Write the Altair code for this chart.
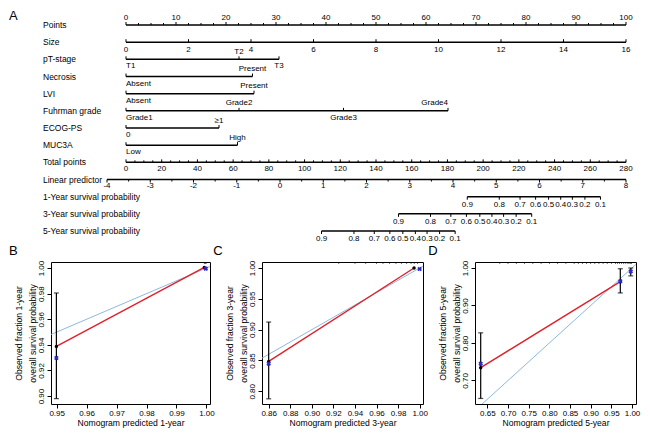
import altair as alt
import pandas as pd
import numpy as np

FONT = "Liberation Sans"

# ---------------- Panel A : nomogram ----------------
row_names = ["Points", "Size", "pT-stage", "Necrosis", "LVI", "Fuhrman grade",
             "ECOG-PS", "MUC3A", "Total points", "Linear predictor",
             "1-Year survival probability", "3-Year survival probability",
             "5-Year survival probability"]

points_major = [0, 10, 20, 30, 40, 50, 60, 70, 80, 90, 100]
size_values = [0, 2, 4, 6, 8, 10, 12, 14, 16]
size_max = 16
pt_levels = ["T1", "T2", "T3"]
pt_points = [0.0, 22.6, 30.6]
necrosis_levels = ["Absent", "Present"]
necrosis_points = [0.0, 25.3]
lvi_levels = ["Absent", "Present"]
lvi_points = [0.0, 25.6]
fuhrman_levels = ["Grade1", "Grade2", "Grade3", "Grade4"]
fuhrman_points = [0.0, 22.6, 43.5, 64.4]
ecog_levels = ["0", "≥1"]
ecog_points = [0.0, 18.6]
muc3a_levels = ["Low", "High"]
muc3a_points = [0.0, 22.3]
total_major = [0, 20, 40, 60, 80, 100, 120, 140, 160, 180, 200, 220, 240, 260, 280]
total_max = 280
lp_major = [-4, -3, -2, -1, 0, 1, 2, 3, 4, 5, 6, 7, 8]
lp_points_at_ends = [-3.8, 100.0]      # points position of LP = -4 and LP = 8
surv_labels = ["0.9", "0.8", "0.7", "0.6", "0.5", "0.4", "0.3", "0.2", "0.1"]
surv1_lp = [4.33, 5.07, 5.55, 5.91, 6.21, 6.49, 6.76, 7.05, 7.41]
surv3_lp = [2.74, 3.48, 3.95, 4.31, 4.62, 4.90, 5.17, 5.46, 5.82]
surv5_lp = [0.96, 1.71, 2.18, 2.54, 2.84, 3.13, 3.40, 3.69, 4.05]

ROW_PX = 17.17
TOP_W, TOP_H = 578, 240
PX_PER_PT = 5.0
X0 = -15.0
Y0 = -0.932


def lp_pts(v):
    a, b = lp_points_at_ends
    return a + (v - lp_major[0]) * (b - a) / (lp_major[-1] - lp_major[0])


lines, ticks, labels = [], [], []


def add_tick(r, x, px):
    ticks.append({"x": x, "row": r, "row2": r + px / ROW_PX})


def add_label(r, x, t, dy, align="center"):
    labels.append({"x": x, "row": r + dy / ROW_PX, "t": t, "align": align})


# Points
r = 0
lines.append({"row": r, "x0": 0, "x1": 100})
for v in np.arange(0, 100.01, 2.5):
    add_tick(r, v, -3 if v % 10 == 0 else -2)
for v in points_major:
    add_label(r, v, str(v), -7)
# Size
r = 1
lines.append({"row": r, "x0": 0, "x1": 100})
for v in size_values:
    add_tick(r, v * 100 / size_max, -3)
    add_label(r, v * 100 / size_max, str(v), 7.5)
# categorical rows
cats = [(2, pt_levels, pt_points, ["b", "a", "b"]),
        (3, necrosis_levels, necrosis_points, ["b", "a"]),
        (4, lvi_levels, lvi_points, ["b", "a"]),
        (5, fuhrman_levels, fuhrman_points, ["b", "a", "b", "a"]),
        (6, ecog_levels, ecog_points, ["b", "a"]),
        (7, muc3a_levels, muc3a_points, ["b", "a"])]
for r, levs, pts, sides in cats:
    lines.append({"row": r, "x0": 0, "x1": max(pts)})
    for i, (lv, p, s) in enumerate(zip(levs, pts, sides)):
        add_tick(r, p, -3)
        if i == 0:
            al = "left"
        elif lv == "Grade4":
            al = "right"
        else:
            al = "center"
        add_label(r, p, lv, -7.5 if s == "a" else 7, al)
# Total points
r = 8
lines.append({"row": r, "x0": 0, "x1": 100})
for v in range(0, total_max + 1, 5):
    add_tick(r, v * 100 / total_max, -3 if v % 20 == 0 else -2)
for v in total_major:
    add_label(r, v * 100 / total_max, str(v), 6.5)
# Linear predictor
r = 9
lines.append({"row": r, "x0": lp_pts(lp_major[0]), "x1": lp_pts(lp_major[-1])})
for v in np.arange(lp_major[0], lp_major[-1] + 0.01, 0.5):
    add_tick(r, lp_pts(v), 3 if v == int(v) else 2)
for v in lp_major:
    add_label(r, lp_pts(v), str(v), 6.5)
# survival rows
for r, lps in [(10, surv1_lp), (11, surv3_lp), (12, surv5_lp)]:
    lines.append({"row": r, "x0": lp_pts(min(lps)), "x1": lp_pts(max(lps))})
    for lab, v in zip(surv_labels, lps):
        add_tick(r, lp_pts(v), 3)
        add_label(r, lp_pts(v), lab, 8)

lines_df = pd.DataFrame(lines)
ticks_df = pd.DataFrame(ticks)
labels_df = pd.DataFrame(labels)
names_df = pd.DataFrame({"name": row_names, "row": list(range(len(row_names)))})

xs = alt.Scale(domain=[X0, X0 + TOP_W / PX_PER_PT], nice=False, zero=False)
ys = alt.Scale(domain=[Y0, Y0 + TOP_H / ROW_PX], reverse=True, nice=False, zero=False)

axis_lines = alt.Chart(lines_df).mark_rule(color="black", strokeWidth=1.5).encode(
    x=alt.X("x0:Q", scale=xs, axis=None), x2="x1:Q",
    y=alt.Y("row:Q", scale=ys, axis=None))
tick_marks = alt.Chart(ticks_df).mark_rule(color="black", strokeWidth=1).encode(
    x=alt.X("x:Q", scale=xs, axis=None),
    y=alt.Y("row:Q", scale=ys, axis=None), y2="row2:Q")
text_layers = []
for al in ["left", "center", "right"]:
    text_layers.append(
        alt.Chart(labels_df[labels_df["align"] == al]).mark_text(
            fontSize=8, align=al, baseline="middle", color="black").encode(
            x=alt.X("x:Q", scale=xs, axis=None),
            y=alt.Y("row:Q", scale=ys, axis=None), text="t:N"))
row_text = alt.Chart(names_df).mark_text(
    fontSize=8.5, align="left", baseline="middle", color="black").encode(
    x=alt.value(-8), y=alt.Y("row:Q", scale=ys, axis=None), text="name:N")


def letter(t, px, py, align):
    return alt.Chart(pd.DataFrame({"t": [t]})).mark_text(
        fontSize=13, align=align, baseline="middle", color="black").encode(
        text="t:N", x=alt.value(px), y=alt.value(py))


top = alt.layer(axis_lines, tick_marks, *text_layers, row_text,
                letter("A", -42, 7, "left"), letter("B", -42, 242, "left"),
                letter("C", 167, 242, "center"), letter("D", 382, 242, "center")
                ).properties(width=TOP_W, height=TOP_H,
                             view=alt.ViewBackground(stroke="transparent"))

# ---------------- Panels B, C, D : calibration ----------------
b_pred = [0.9499, 0.9993]
b_obs = [0.9388, 1.0005]
b_err_x = [0.9499]
b_err_lo = [0.898]
b_err_hi = [0.9805]
b_bc_x = [0.9499, 0.9998]
b_bc_y = [0.9297, 0.9995]
b_diag = [0.9481, 1.0012]
b_rug = [0.9993, 0.9996, 0.9999]
b_xdom = [0.9481, 1.0012]
b_ydom = [0.8938, 1.0047]
b_xticks = [0.95, 0.96, 0.97, 0.98, 0.99, 1.00]
b_yticks = [0.90, 0.92, 0.94, 0.96, 0.98, 1.00]

c_pred = [0.8600, 0.9948]
c_obs = [0.8485, 1.0000]
c_err_x = [0.8600]
c_err_lo = [0.7878]
c_err_hi = [0.9123]
c_bc_x = [0.8600, 1.0000]
c_bc_y = [0.8447, 0.9984]
c_diag = [0.8538, 1.0031]
c_rug = [0.925, 0.94, 0.95, 0.96, 0.966, 0.972, 0.978, 0.983, 0.988, 0.992, 0.995, 0.998]
c_xdom = [0.8538, 1.0031]
c_ydom = [0.7794, 1.0097]
c_xticks = [0.86, 0.88, 0.90, 0.92, 0.94, 0.96, 0.98, 1.00]
c_yticks = [0.80, 0.85, 0.90, 0.95, 1.00]

d_pred = [0.6338, 0.9717]
d_obs = [0.7340, 0.9635]
d_err_x = [0.6338, 0.9717, 0.9970]
d_err_lo = [0.6520, 0.9335, 0.9790]
d_err_hi = [0.8270, 0.9980, 1.0000]
d_bc_x = [0.6338, 0.9717, 0.9970]
d_bc_y = [0.7445, 0.9646, 0.9910]
d_diag = [0.6200, 1.0097]
d_rug = [0.68, 0.70, 0.72, 0.74, 0.76, 0.78, 0.80, 0.82, 0.84, 0.86, 0.87, 0.88,
         0.89, 0.90, 0.91, 0.92, 0.93, 0.94, 0.95, 0.96, 0.965, 0.97, 0.975,
         0.98, 0.985, 0.99, 0.993, 0.996, 0.999]
d_xdom = [0.6200, 1.0097]
d_ydom = [0.6372, 1.0160]
d_xticks = [0.65, 0.70, 0.75, 0.80, 0.85, 0.90, 0.95, 1.00]
d_yticks = [0.70, 0.80, 0.90, 1.00]

RED = "#e0202a"
LIGHT_BLUE = "#8fb8de"
DARK_BLUE = "#2a2ad0"


def calib(year, pred, obs, ex, elo, ehi, bx, by, diag, rug, xdom, ydom, xt, yt, width):
    sx = alt.Scale(domain=xdom, nice=False, zero=False)
    sy = alt.Scale(domain=ydom, nice=False, zero=False)
    ax = alt.Axis(values=xt, format=".2f", title=f"Nomogram predicted {year}-year",
                  grid=False, domain=False, tickSize=4, tickColor="black",
                  labelFontSize=8, labelPadding=1, labelColor="black",
                  labelFlush=False, labelOverlap=False,
                  titleFontSize=8.6, titleFontWeight="normal", titleColor="black",
                  titlePadding=1)
    ay = alt.Axis(values=yt, format=".2f",
                  title=[f"Observed fraction {year}-year", "overall survival probability"],
                  grid=False, domain=False, tickSize=4, tickColor="black",
                  labelFontSize=8, labelPadding=2, labelColor="black",
                  labelAngle=270, labelAlign="center", labelBaseline="bottom",
                  labelFlush=False, labelOverlap=False,
                  titleFontSize=8.6, titleFontWeight="normal", titleColor="black",
                  titleLineHeight=14, titlePadding=0)

    def X(f):
        return alt.X(f"{f}:Q", scale=sx, axis=ax)

    def Y(f):
        return alt.Y(f"{f}:Q", scale=sy, axis=ay)

    d_diag = pd.DataFrame({"x": diag, "y": diag})
    d_obs = pd.DataFrame({"x": pred, "y": obs})
    d_err = pd.DataFrame({"x": ex, "lo": elo, "hi": ehi})
    d_bc = pd.DataFrame({"x": bx, "y": by})
    d_rug = pd.DataFrame({"x": rug})

    layers = [
        alt.Chart(d_diag).mark_line(color=LIGHT_BLUE, strokeWidth=1, clip=True).encode(
            x=X("x"), y=Y("y")),
        alt.Chart(d_obs).mark_line(color=RED, strokeWidth=1.4, clip=True).encode(
            x=X("x"), y=Y("y")),
        alt.Chart(d_err).mark_rule(color="black", strokeWidth=1.2).encode(
            x=X("x"), y=Y("lo"), y2="hi:Q"),
        alt.Chart(d_err).mark_tick(color="black", orient="horizontal", size=5,
                                   thickness=1.2).encode(x=X("x"), y=Y("lo")),
        alt.Chart(d_err).mark_tick(color="black", orient="horizontal", size=5,
                                   thickness=1.2).encode(x=X("x"), y=Y("hi")),
        alt.Chart(d_obs).mark_point(color="black", filled=True, shape="circle",
                                    size=12, opacity=1).encode(x=X("x"), y=Y("y")),
        alt.Chart(d_bc).mark_point(color=DARK_BLUE, filled=True, shape="cross",
                                   angle=45, size=22, opacity=1).encode(
            x=X("x"), y=Y("y")),
        alt.Chart(d_rug).mark_tick(color="black", orient="vertical", size=2,
                                   thickness=0.8).encode(x=X("x"), y=alt.value(1)),
    ]
    return alt.layer(*layers).properties(
        width=width, height=142,
        view=alt.ViewBackground(stroke="black", strokeWidth=1))


pB = calib(1, b_pred, b_obs, b_err_x, b_err_lo, b_err_hi, b_bc_x, b_bc_y, b_diag,
           b_rug, b_xdom, b_ydom, b_xticks, b_yticks, 159)
pC = calib(3, c_pred, c_obs, c_err_x, c_err_lo, c_err_hi, c_bc_x, c_bc_y, c_diag,
           c_rug, c_xdom, c_ydom, c_xticks, c_yticks, 161)
pD = calib(5, d_pred, d_obs, d_err_x, d_err_lo, d_err_hi, d_bc_x, d_bc_y, d_diag,
           d_rug, d_xdom, d_ydom, d_xticks, d_yticks, 161)

bottom = alt.hconcat(pB, pC, pD, spacing=9)

chart = alt.vconcat(top, bottom, spacing=0).properties(
    padding={"left": 0, "top": 0, "right": 0, "bottom": 0}
).configure(font=FONT).configure_view(stroke="transparent")

chart.save("out.html", embed_options={"renderer": "svg", "actions": False})
